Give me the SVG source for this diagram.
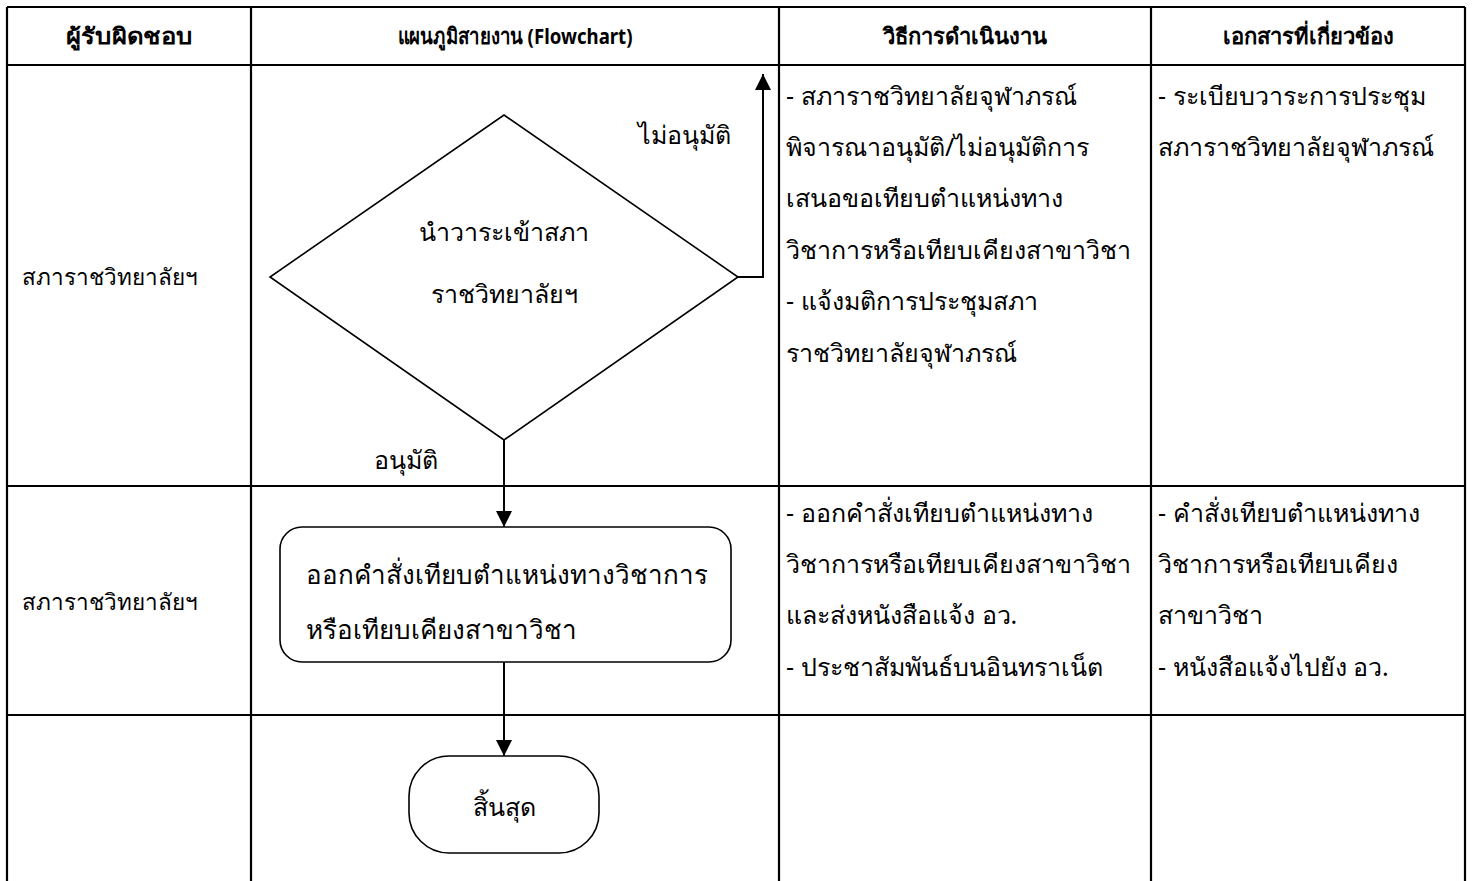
<svg xmlns="http://www.w3.org/2000/svg" width="1474" height="881" viewBox="0 0 1474 881">
<defs>
<style>
.grid{stroke:#000;stroke-width:2.2;fill:none}
.shape{stroke:#000;stroke-width:1.6;fill:#fff}
.conn{stroke:#000;stroke-width:2;fill:none}
.t{font-family:"Noto Sans","DejaVu Sans",sans-serif;font-size:25px;fill:#000}
.p{font-size:26px}
.r{font-family:"Noto Sans","DejaVu Sans",sans-serif;font-size:22.5px;fill:#000}
.h{font-family:"Noto Sans","DejaVu Sans",sans-serif;font-size:22px;font-weight:bold;fill:#000;text-anchor:middle}
.c{text-anchor:middle}
</style>
<marker id="ah" viewBox="0 0 16 16" refX="16" refY="8" markerWidth="16" markerHeight="16" markerUnits="userSpaceOnUse" orient="auto">
<path d="M0,0 L16,8 L0,16 z" fill="#000"/>
</marker>
</defs>
<rect width="1474" height="881" fill="#fff"/>
<g id="table">
<path class="grid" d="M7,7 H1465 M7,65 H1465 M7,486 H1465 M7,715 H1465 M7,7 V881 M251,7 V881 M779,7 V881 M1151,7 V881 M1465,7 V881"/>
<text class="h" x="129" y="44" textLength="126" lengthAdjust="spacingAndGlyphs">ผู้รับผิดชอบ</text>
<text class="h" x="515" y="44" textLength="235" lengthAdjust="spacingAndGlyphs">แผนภูมิสายงาน (Flowchart)</text>
<text class="h" x="965" y="44">วิธีการดำเนินงาน</text>
<text class="h" x="1308" y="44">เอกสารที่เกี่ยวข้อง</text>
<text class="r" x="22" y="285">สภาราชวิทยาลัยฯ</text>
<text class="r" x="22" y="610">สภาราชวิทยาลัยฯ</text>
<text class="t" x="786" y="105">- สภาราชวิทยาลัยจุฬาภรณ์</text>
<text class="t" x="786" y="156">พิจารณาอนุมัติ/ไม่อนุมัติการ</text>
<text class="t" x="786" y="207">เสนอขอเทียบตำแหน่งทาง</text>
<text class="t" x="786" y="259">วิชาการหรือเทียบเคียงสาขาวิชา</text>
<text class="t" x="786" y="310">- แจ้งมติการประชุมสภา</text>
<text class="t" x="786" y="362">ราชวิทยาลัยจุฬาภรณ์</text>
<text class="t" x="1158" y="105">- ระเบียบวาระการประชุม</text>
<text class="t" x="1158" y="156">สภาราชวิทยาลัยจุฬาภรณ์</text>
<text class="t" x="786" y="522">- ออกคำสั่งเทียบตำแหน่งทาง</text>
<text class="t" x="786" y="573">วิชาการหรือเทียบเคียงสาขาวิชา</text>
<text class="t" x="786" y="624">และส่งหนังสือแจ้ง อว.</text>
<text class="t" x="786" y="676">- ประชาสัมพันธ์บนอินทราเน็ต</text>
<text class="t" x="1158" y="522">- คำสั่งเทียบตำแหน่งทาง</text>
<text class="t" x="1158" y="573">วิชาการหรือเทียบเคียง</text>
<text class="t" x="1158" y="624">สาขาวิชา</text>
<text class="t" x="1158" y="676">- หนังสือแจ้งไปยัง อว.</text>
</g>
<g id="connectors">
<path class="conn" d="M738,277 H763 V74" marker-end="url(#ah)"/>
<path class="conn" d="M504,440 V527" marker-end="url(#ah)"/>
<path class="conn" d="M504,662 V756" marker-end="url(#ah)"/>
<text class="t" x="638" y="144">ไม่อนุมัติ</text>
<text class="t" x="374" y="469">อนุมัติ</text>
</g>
<g id="decision">
<polygon class="shape" points="504,115 738,277 504,440 270,277"/>
<text class="t c" x="504" y="241">นำวาระเข้าสภา</text>
<text class="t c" x="504" y="303">ราชวิทยาลัยฯ</text>
</g>
<g id="process">
<rect class="shape" x="280" y="527" width="451" height="135" rx="22"/>
<text class="t p" x="306" y="584">ออกคำสั่งเทียบตำแหน่งทางวิชาการ</text>
<text class="t p" x="306" y="639">หรือเทียบเคียงสาขาวิชา</text>
</g>
<g id="end">
<rect class="shape" x="409" y="756" width="190" height="97" rx="40"/>
<text class="t c" x="504" y="816">สิ้นสุด</text>
</g>
</svg>
